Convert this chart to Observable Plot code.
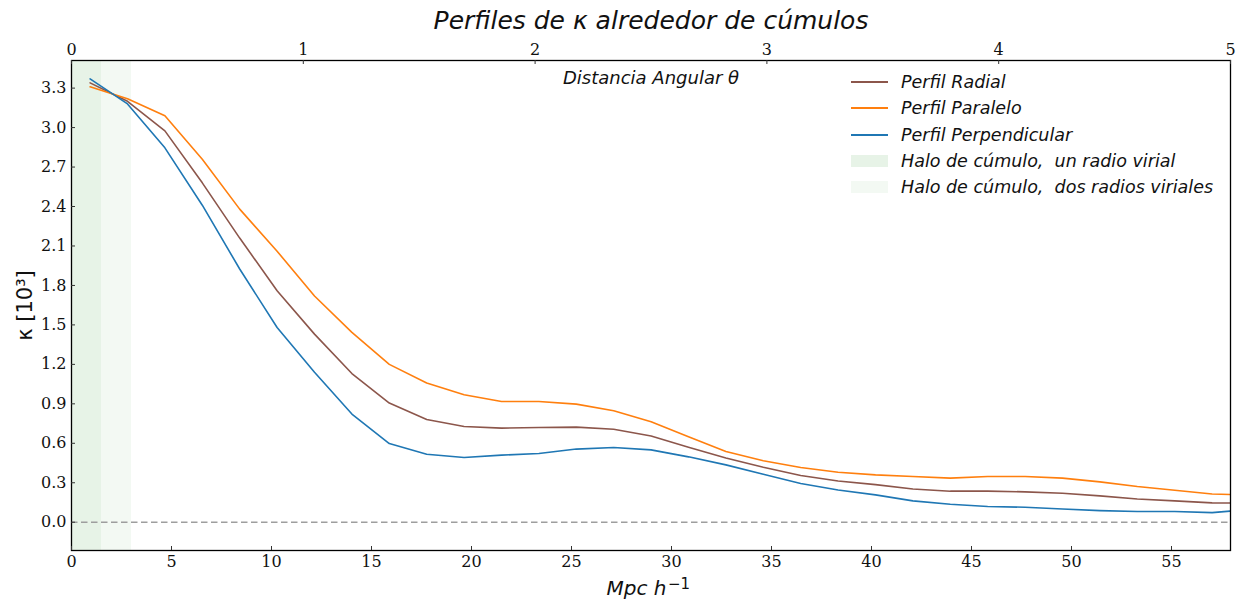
<!DOCTYPE html>
<html>
<head>
<meta charset="utf-8">
<script src="https://cdn.jsdelivr.net/npm/d3@7"></script>
<script src="https://cdn.jsdelivr.net/npm/@observablehq/plot@0.6"></script>
<style>
  body { margin: 0; background: #fff; }
  #wrap { position: relative; width: 1240px; height: 603px; }
  #legend { position: absolute; left: 851px; top: 69px; font-family: "DejaVu Sans", sans-serif; font-style: italic; font-size: 17.5px; color: #111; }
  #legend .row { height: 26.3px; display: flex; align-items: center; }
  #legend .sw { width: 37px; margin-right: 13px; }
</style>
</head>
<body>
<div id="wrap"></div>
<script>
// Distance from the cluster centre (Mpc/h)
const distances = [0.93, 2.80, 4.67, 6.54, 8.41, 10.28, 12.15, 14.02, 15.89, 17.76, 19.63, 21.50,
  23.37, 25.24, 27.11, 28.98, 30.85, 32.72, 34.59, 36.46, 38.33, 40.20, 42.07, 43.94, 45.81,
  47.68, 49.55, 51.42, 53.29, 55.16, 57.03, 58.90];

// Convergence kappa (units of 10^-3) for each profile
const radial = [3.34, 3.20, 2.975, 2.58, 2.16, 1.76, 1.43, 1.13, 0.906, 0.781, 0.728, 0.715,
  0.72, 0.723, 0.707, 0.655, 0.57, 0.488, 0.418, 0.355, 0.313, 0.286, 0.253, 0.236, 0.236,
  0.231, 0.220, 0.200, 0.177, 0.162, 0.147, 0.145];
const paralelo = [3.31, 3.22, 3.09, 2.76, 2.38, 2.06, 1.72, 1.443, 1.20, 1.058, 0.969, 0.918,
  0.918, 0.898, 0.847, 0.763, 0.649, 0.537, 0.467, 0.416, 0.38, 0.36, 0.347, 0.335, 0.347,
  0.347, 0.335, 0.307, 0.271, 0.243, 0.215, 0.205];
const perpendicular = [3.37, 3.18, 2.846, 2.41, 1.925, 1.48, 1.14, 0.822, 0.598, 0.517, 0.492, 0.51,
  0.522, 0.556, 0.568, 0.55, 0.497, 0.436, 0.365, 0.294, 0.245, 0.208, 0.162, 0.137, 0.119,
  0.114, 0.101, 0.088, 0.081, 0.081, 0.073, 0.096];

const seriesNames = ["Perfil Radial", "Perfil Paralelo", "Perfil Perpendicular"];
const seriesColors = ["#8c564b", "#ff7f0e", "#1f77b4"];
const seriesValues = [radial, paralelo, perpendicular];

// Halo extents (Mpc/h): one and two virial radii
const haloRadii = [1.5, 3.0];
const haloNames = ["Halo de cúmulo,  un radio virial", "Halo de cúmulo,  dos radios viriales"];
const haloColors = ["#e7f3e7", "#f3f9f3"];

// Tick values
const xTicks = [0, 5, 10, 15, 20, 25, 30, 35, 40, 45, 50, 55];
const yTicks = [0.0, 0.3, 0.6, 0.9, 1.2, 1.5, 1.8, 2.1, 2.4, 2.7, 3.0, 3.3];
const degTicks = [0, 1, 2, 3, 4, 5];

const xMax = 57.95;           // Mpc/h at the right edge
const mpcPerDeg = xMax / 5;   // top axis spans 0–5 degrees
const yDomain = [-0.215, 3.51];

const W = 1240, H = 603;
const M = {top: 60, right: 10, bottom: 53, left: 71};
const innerW = W - M.left - M.right;
const innerH = H - M.top - M.bottom;

const rows = seriesNames.flatMap((name, s) =>
  distances.map((d, i) => ({dist: d, kappa: seriesValues[s][i], name})));

const halos = haloRadii.map((r, i) => ({r, name: haloNames[i], color: haloColors[i]}));

const serif = "DejaVu Serif, serif";
const sans = "DejaVu Sans, sans-serif";

const chart = Plot.plot({
  width: W, height: H,
  marginTop: M.top, marginRight: M.right, marginBottom: M.bottom, marginLeft: M.left,
  style: {background: "#fff", color: "#111"},
  x: {domain: [0, xMax]},
  y: {domain: yDomain},
  color: {domain: seriesNames, range: seriesColors},
  marks: [
    // halo shading, widest first
    Plot.rectX(halos.slice().reverse(), {x1: 0, x2: "r", fill: d => d.color}),
    Plot.ruleY([0], {stroke: "#9e9e9e", strokeWidth: 1.5, strokeDasharray: "6.5,3.5"}),
    Plot.line(rows, {x: "dist", y: "kappa", stroke: "name", z: "name", strokeWidth: 1.6, clip: true}),
    Plot.frame({stroke: "#000", strokeWidth: 1.3}),
    // inward ticks
    Plot.tickX(xTicks, {x: d => d, insetTop: innerH - 4, stroke: "#333"}),
    Plot.tickX(degTicks, {x: d => d * mpcPerDeg, insetBottom: innerH - 4, stroke: "#333"}),
    Plot.tickY(yTicks, {y: d => d, insetRight: innerW - 4, stroke: "#333"}),
    Plot.axisX({ticks: xTicks, tickSize: 0, tickPadding: 5, label: null,
      fontFamily: serif, fontSize: 16}),
    Plot.axisX({anchor: "top", ticks: degTicks.map(d => d * mpcPerDeg), tickSize: 0, tickPadding: 6,
      label: null, tickFormat: d => String(Math.round(d / mpcPerDeg)), fontFamily: serif, fontSize: 16}),
    Plot.axisY({ticks: yTicks, tickSize: 0, tickPadding: 5, label: null,
      tickFormat: d => d.toFixed(1), fontFamily: serif, fontSize: 16}),
    // titles and axis labels
    Plot.text(["Perfiles de κ alrededor de cúmulos"], {frameAnchor: "top", dy: -31.5, lineAnchor: "bottom",
      fontSize: 25, fontStyle: "italic", fontFamily: sans}),
    Plot.text(["Distancia Angular θ"], {frameAnchor: "top", dy: 23, lineAnchor: "bottom",
      fontSize: 18, fontStyle: "italic", fontFamily: sans}),
    Plot.text(["Mpc h"], {frameAnchor: "bottom", dx: -44.5, dy: 44, textAnchor: "start", lineAnchor: "bottom",
      fontSize: 20, fontStyle: "italic", fontFamily: sans}),
    Plot.text(["−1"], {frameAnchor: "bottom", dx: 17, dy: 38, textAnchor: "start", lineAnchor: "bottom",
      fontSize: 15, fontFamily: sans}),
    Plot.text(["κ [10³]"], {frameAnchor: "left", dx: -46, rotate: -90, textAnchor: "middle",
      fontSize: 21, fontFamily: sans})
  ]
});

const wrap = document.getElementById("wrap");
wrap.appendChild(chart);

// Legend drawn over the upper-right corner of the plot
const legend = document.createElement("div");
legend.id = "legend";
const entries = [
  ...seriesNames.map((n, i) => ({label: n, color: seriesColors[i], kind: "line"})),
  ...halos.map(h => ({label: h.name, color: h.color, kind: "box"}))
];
for (const e of entries) {
  const row = document.createElement("div");
  row.className = "row";
  const sw = document.createElement("div");
  sw.className = "sw";
  sw.style.background = e.color;
  sw.style.height = e.kind === "line" ? "2px" : "12px";
  const tx = document.createElement("span");
  tx.textContent = e.label;
  tx.style.whiteSpace = "pre";
  row.appendChild(sw);
  row.appendChild(tx);
  legend.appendChild(row);
}
wrap.appendChild(legend);
</script>
</body>
</html>
